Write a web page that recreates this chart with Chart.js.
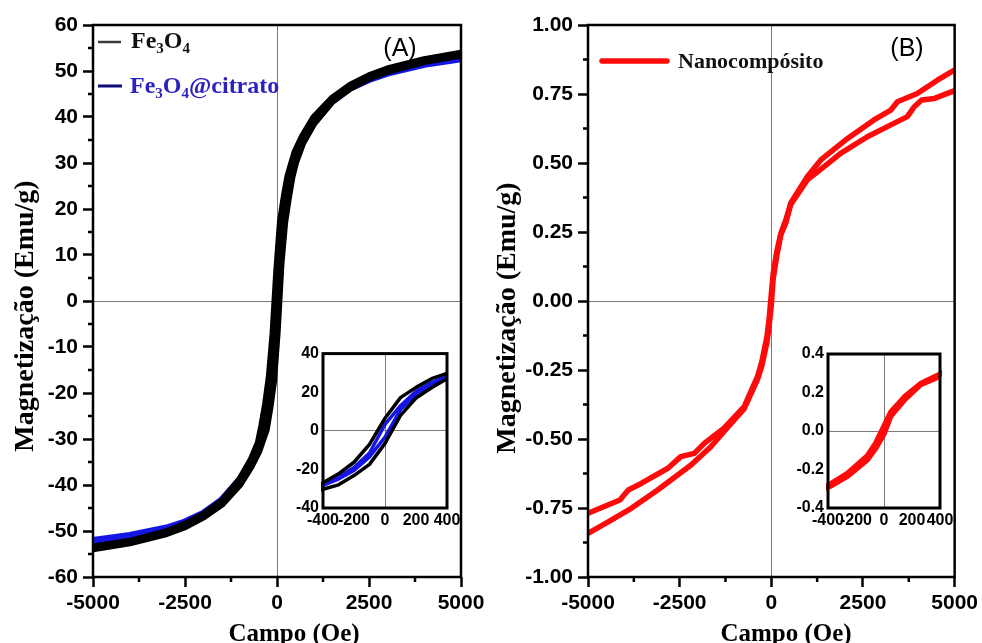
<!DOCTYPE html>
<html>
<head>
<meta charset="utf-8">
<script src="https://cdn.jsdelivr.net/npm/chart.js@4.4.1/dist/chart.umd.min.js"></script>
<style>
html, body { margin: 0; padding: 0; background: #fff; }
#wrap { position: relative; width: 982px; height: 643px; overflow: hidden; background: #fff; }
canvas { position: absolute; }
</style>
</head>
<body>
<div id="wrap">
<canvas id="chartA" width="491" height="643" style="left:0;top:0"></canvas>
<canvas id="chartB" width="491" height="643" style="left:491px;top:0"></canvas>
<canvas id="insetA" width="185" height="200" style="left:290px;top:340px"></canvas>
<canvas id="insetB" width="175" height="200" style="left:795px;top:340px"></canvas>
</div>
<script>
// ---- data (panel A) ----
var seriesA = ["Fe3O4", "Fe3O4@citrato"];
var hA = [-5000, -4000, -3000, -2500, -2000, -1500, -1000, -700, -500, -400, -300, -200, -100, 0,
          100, 200, 300, 400, 500, 700, 1000, 1500, 2000, 2500, 3000, 4000, 5000];
// descending (upper) and ascending (lower) branches
var fe3o4Desc = [-53.5, -52.3, -50.2, -48.6, -46.5, -43.6, -38.8, -34.6, -30.8, -26.9, -22.3, -16.3, -7, 6.5,
                 17.2, 22.5, 27, 29.8, 32.4, 35.8, 39.8, 44, 46.9, 48.9, 50.4, 52.4, 53.8];
var fe3o4Asc  = [-53.8, -52.5, -50.5, -49, -46.9, -44.1, -39.7, -35.8, -32.6, -30.3, -28, -23.2, -17.4, -6.5,
                 8, 17, 22.3, 27, 30.2, 34.5, 38.7, 43.5, 46.4, 48.5, 50, 52.1, 53.5];
var citDesc   = [-52.1, -51, -49.4, -48.1, -46.2, -43.3, -38.8, -35, -31.3, -27.8, -24, -19, -11.5, 3.3,
                 13, 20.5, 25, 28.2, 31.8, 35.3, 39.2, 43.8, 46.7, 48.5, 49.9, 51.8, 53.0];
var citAsc    = [-52.4, -51.2, -49.6, -48.3, -46.4, -43.6, -39.3, -35.5, -32, -28.3, -25, -20.5, -13.5, -3.3,
                 11, 19, 24, 27.7, 31.4, 35, 38.9, 43.5, 46.4, 48.2, 49.6, 51.5, 52.7];

// ---- data (panel B) ----
var seriesB = "Nanocompósito";
var hBDesc = [5000, 4530, 3980, 3440, 3260, 2800, 2080, 1350, 990, 530, 400, 260, 150, 50, 0,
              -60, -120, -260, -380, -740, -1290, -1830, -2100, -2470, -2820, -3550, -3900, -4130, -5000];
var mBDesc = [0.837, 0.800, 0.752, 0.722, 0.692, 0.656, 0.589, 0.511, 0.452, 0.355, 0.295, 0.245, 0.18, 0.10, 0.025,
              -0.065, -0.13, -0.22, -0.275, -0.383, -0.461, -0.516, -0.552, -0.564, -0.606, -0.661, -0.685, -0.721, -0.769];
var hBAsc = [-5000, -4450, -3820, -3100, -2190, -1650, -1290, -740, -380, -260, -120, -60, 0, 50,
             150, 260, 400, 530, 990, 1440, 1890, 2620, 3260, 3710, 3900, 4100, 4450, 5000];
var mBAsc = [-0.842, -0.800, -0.751, -0.685, -0.594, -0.528, -0.473, -0.39, -0.285, -0.235, -0.15, -0.09, -0.015, 0.08,
             0.165, 0.24, 0.285, 0.35, 0.44, 0.487, 0.535, 0.595, 0.638, 0.668, 0.704, 0.728, 0.734, 0.762];

var xTitle = "Campo (Oe)";
var yTitle = "Magnetização (Emu/g)";

var SANS = "'Liberation Sans', Arial, sans-serif";
var SERIF = "'Liberation Serif', 'Times New Roman', serif";

function pts(h, m) {
    return h.map(function (v, i) { return {x: v, y: m[i]}; });
}

function zeroLine(c) {
    return (c.tick && Math.abs(c.tick.value) < 1e-9) ? "#7a7a7a" : "rgba(0,0,0,0)";
}

// chemical formula: digits before '@' are subscripts
function drawFormula(ctx, text, x, y, size, color) {
    var at = text.indexOf("@");
    var cx = x;
    ctx.fillStyle = color;
    for (var i = 0; i < text.length; i++) {
        var ch = text[i];
        var sub = /\d/.test(ch) && (at < 0 || i < at);
        ctx.font = "bold " + (sub ? Math.round(size * 0.62) : size) + "px " + SERIF;
        ctx.fillText(ch, cx, sub ? y + size * 0.2 : y);
        cx += ctx.measureText(ch).width;
    }
}

var decor = {
    id: "decor",
    afterDatasetsDraw: function (chart, args, o) {
        var ctx = chart.ctx, a = chart.chartArea;
        ctx.save();
        ctx.strokeStyle = "#000";
        if (o.minor) {
            ctx.lineWidth = o.tickWidth;
            var sx = chart.scales.x, sy = chart.scales.y, i, p;
            for (i = 0; i < sx.ticks.length - 1; i++) {
                p = sx.getPixelForValue((sx.ticks[i].value + sx.ticks[i + 1].value) / 2);
                ctx.beginPath(); ctx.moveTo(p, a.bottom); ctx.lineTo(p, a.bottom + o.minor); ctx.stroke();
            }
            for (i = 0; i < sy.ticks.length - 1; i++) {
                p = sy.getPixelForValue((sy.ticks[i].value + sy.ticks[i + 1].value) / 2);
                ctx.beginPath(); ctx.moveTo(a.left, p); ctx.lineTo(a.left - o.minor, p); ctx.stroke();
            }
        }
        ctx.lineWidth = o.frame;
        ctx.strokeRect(a.left, a.top, a.right - a.left, a.bottom - a.top);
        ctx.restore();
    },
    afterDraw: function (chart, args, o) {
        var ctx = chart.ctx;
        (o.lines || []).forEach(function (l) {
            ctx.save();
            ctx.strokeStyle = l.color; ctx.lineWidth = l.w; ctx.lineCap = l.cap || "butt";
            ctx.beginPath(); ctx.moveTo(l.x1, l.y); ctx.lineTo(l.x2, l.y); ctx.stroke();
            ctx.restore();
        });
        (o.texts || []).forEach(function (t) {
            ctx.save();
            ctx.textBaseline = "alphabetic";
            ctx.textAlign = t.align || "left";
            ctx.translate(t.x, t.y);
            if (t.rot) ctx.rotate(t.rot);
            if (t.formula) {
                drawFormula(ctx, t.text, 0, 0, t.size, t.color);
            } else {
                ctx.font = t.font; ctx.fillStyle = t.color || "#000";
                ctx.fillText(t.text, 0, 0);
            }
            ctx.restore();
        });
    }
};

function axis(min, max, step, o) {
    return {
        type: "linear", min: min, max: max,
        afterFit: o.fit,
        border: {display: false},
        grid: {color: zeroLine, lineWidth: 1, drawTicks: o.tickLength > 0, tickLength: o.tickLength,
               tickColor: "#000", tickWidth: 2.5},
        ticks: {stepSize: step, autoSkip: false, maxRotation: 0, minRotation: 0, padding: o.pad, color: "#000",
                font: {family: SANS, size: o.size, weight: "bold"}, callback: o.fmt}
    };
}

function line(label, data, color, w) {
    return {label: label, data: data, showLine: true, borderColor: color, backgroundColor: color,
            borderWidth: w, pointRadius: 0, borderJoinStyle: "round", clip: 2};
}

var intFmt = function (v) { return String(v); };
var fix2 = function (v) { return (Math.abs(v) < 1e-9 ? 0 : v).toFixed(2); };
var fix1 = function (v) { return (Math.abs(v) < 1e-9 ? 0 : v).toFixed(1); };

var base = {
    responsive: false, animation: false, events: []
};

function datasetsA(w) {
    return [
        line(seriesA[0], pts(hA, fe3o4Desc), "#000", w),
        line(seriesA[0], pts(hA, fe3o4Asc), "#000", w),
        line(seriesA[1], pts(hA, citDesc), "#1515e6", w),
        line(seriesA[1], pts(hA, citAsc), "#1515e6", w)
    ];
}

function datasetsB(w) {
    return [
        line(seriesB, pts(hBDesc, mBDesc), "#ff0a0a", w),
        line(seriesB, pts(hBAsc, mBAsc), "#ff0a0a", w)
    ];
}

// ---- panel A ----
new Chart(document.getElementById("chartA"), {
    type: "scatter",
    data: {datasets: datasetsA(7.5)},
    options: Object.assign({}, base, {
        layout: {padding: {top: 25, right: 30, left: 0, bottom: 0}},
        scales: {
            x: axis(-5000, 5000, 2500, {fit: function (s) { s.height = 66; }, tickLength: 10, pad: 4, size: 21, fmt: intFmt}),
            y: axis(-60, 60, 10, {fit: function (s) { s.width = 93; }, tickLength: 10, pad: 5, size: 21, fmt: intFmt})
        },
        plugins: {
            legend: {display: false}, tooltip: {enabled: false},
            decor: {
                minor: 5, tickWidth: 2.5, frame: 2.5,
                lines: [
                    {x1: 98, x2: 121, y: 42, color: "#3a3a3a", w: 2.5},
                    {x1: 98, x2: 122, y: 86, color: "#0b0b7a", w: 3}
                ],
                texts: [
                    {text: seriesA[0], formula: true, x: 131, y: 48, size: 24, color: "#111"},
                    {text: seriesA[1], formula: true, x: 130, y: 93, size: 24, color: "#2b22c0"},
                    {text: "(A)", x: 400, y: 56, align: "center", font: "25px " + SANS},
                    {text: xTitle, x: 294, y: 641, align: "center", font: "bold 25px " + SERIF},
                    {text: yTitle, x: 33, y: 316, rot: -Math.PI / 2, align: "center", font: "bold 28px " + SERIF}
                ]
            }
        }
    }),
    plugins: [decor]
});

// ---- panel B ----
new Chart(document.getElementById("chartB"), {
    type: "scatter",
    data: {datasets: datasetsB(5.5)},
    options: Object.assign({}, base, {
        layout: {padding: {top: 25, right: 27, left: 0, bottom: 0}},
        scales: {
            x: axis(-5000, 5000, 2500, {fit: function (s) { s.height = 66; }, tickLength: 10, pad: 4, size: 21, fmt: intFmt}),
            y: axis(-1, 1, 0.25, {fit: function (s) { s.width = 97; }, tickLength: 10, pad: 5, size: 21, fmt: fix2})
        },
        plugins: {
            legend: {display: false}, tooltip: {enabled: false},
            decor: {
                minor: 5, tickWidth: 2.5, frame: 2.5,
                lines: [{x1: 111, x2: 176, y: 61, color: "#ff0a0a", w: 5.5, cap: "round"}],
                texts: [
                    {text: seriesB, x: 187, y: 68, font: "bold 22px " + SERIF, color: "#111"},
                    {text: "(B)", x: 416, y: 56, align: "center", font: "25px " + SANS},
                    {text: xTitle, x: 295, y: 641, align: "center", font: "bold 25px " + SERIF},
                    {text: yTitle, x: 24, y: 318, rot: -Math.PI / 2, align: "center", font: "bold 28px " + SERIF}
                ]
            }
        }
    }),
    plugins: [decor]
});

// ---- insets ----
new Chart(document.getElementById("insetA"), {
    type: "scatter",
    data: {datasets: datasetsA(3.5)},
    options: Object.assign({}, base, {
        layout: {padding: {top: 13, right: 28, left: 0, bottom: 0}},
        scales: {
            x: axis(-400, 400, 200, {fit: function (s) { s.height = 32; }, tickLength: 0, pad: 3, size: 16, fmt: intFmt}),
            y: axis(-40, 40, 20, {fit: function (s) { s.width = 33; }, tickLength: 0, pad: 4, size: 16, fmt: intFmt})
        },
        plugins: {legend: {display: false}, tooltip: {enabled: false}, decor: {frame: 3}}
    }),
    plugins: [decor]
});

new Chart(document.getElementById("insetB"), {
    type: "scatter",
    data: {datasets: datasetsB(5.5)},
    options: Object.assign({}, base, {
        layout: {padding: {top: 14, right: 30, left: 0, bottom: 0}},
        scales: {
            x: axis(-400, 400, 200, {fit: function (s) { s.height = 32; }, tickLength: 0, pad: 3, size: 16, fmt: intFmt}),
            y: axis(-0.4, 0.4, 0.2, {fit: function (s) { s.width = 33; }, tickLength: 0, pad: 4, size: 16, fmt: fix1})
        },
        plugins: {legend: {display: false}, tooltip: {enabled: false}, decor: {frame: 3}}
    }),
    plugins: [decor]
});
</script>
</body>
</html>
